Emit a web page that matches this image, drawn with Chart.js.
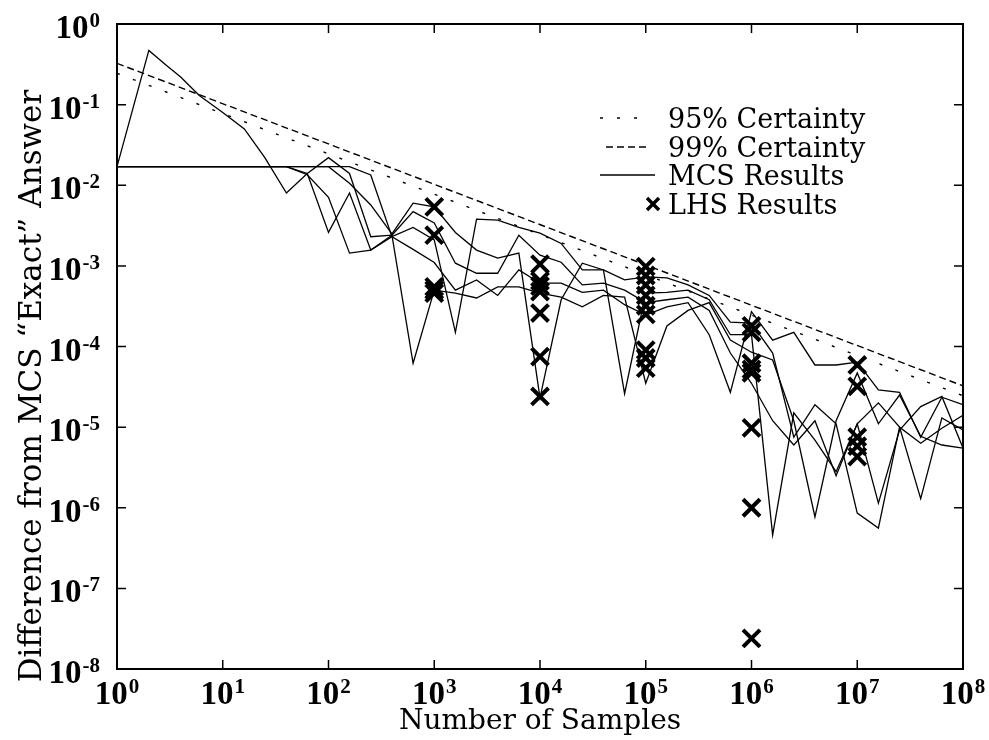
<!DOCTYPE html>
<html>
<head>
<meta charset="utf-8">
<script src="https://cdn.jsdelivr.net/npm/chart.js@4.4.1/dist/chart.umd.min.js"></script>
<style>
html,body{margin:0;padding:0;background:#fff;}
</style>
</head>
<body>
<canvas id="chart" width="989" height="740"></canvas>
<script>
// number of samples used at each step of the MCS runs
const samples=[1,2,3,4,6,10,16,25,40,63,100,158,251,398,631,1000,1585,2512,3981,6310,
10000,15849,25119,39811,63096,100000,158489,251189,398107,630957,
1000000,1584893,2511886,3981072,6309573,10000000,15848932,25118864,39810717,63095734,100000000];

// five MCS runs, difference from the "exact" answer
const mcsRun1=[0.017,0.47,0.30,0.22,0.13,0.08,0.05,0.022,0.008,0.014,0.022,
0.014,0.0023,0.0024,6.2e-5,5.0e-4,4.6e-4,4.0e-4,5.5e-4,5.5e-4,4.6e-4,
4.1e-4,3.1e-4,4.3e-4,4.1e-4,3.5e-5,1.8e-4,2.8e-4,3.5e-4,1.2e-4,8.5e-5,
6.8e-5,1.2e-5,7.7e-7,1.2e-5,4.7e-5,1.1e-5,2.5e-5,7.7e-6,6.0e-6,5.5e-6];
const mcsRun2=[0.017,0.017,0.017,0.017,0.017,0.017,0.017,0.017,0.017,0.014,0.0026,
0.008,0.00157,0.0024,0.0047,0.0034,0.00108,8.1e-4,8.1e-4,0.0024,0.00136,
0.00111,5.8e-4,6.1e-4,5.0e-4,3.5e-4,3.8e-4,4.1e-4,2.8e-4,8.3e-5,3.5e-5,
1.2e-5,6.0e-6,1.2e-5,2.5e-6,1.1e-5,1.14e-6,9.2e-6,1.8e-5,2.4e-5,5.5e-6];
const mcsRun3=[0.017,0.017,0.017,0.017,0.017,0.017,0.017,0.017,0.017,0.0135,0.0071,
0.00144,0.00157,0.0023,0.0016,0.0011,5.0e-4,6.7e-4,4.3e-4,8.9e-4,6.1e-4,
6.1e-4,4.7e-4,5.0e-4,3.3e-4,2.45e-4,3.1e-4,3.5e-4,1.4e-4,2.7e-5,2.7e-4,
1.2e-4,1.5e-4,5.9e-5,5.9e-5,6.4e-5,2.9e-5,2.7e-5,7.5e-6,2.35e-5,1.9e-5];
const mcsRun4=[0.017,0.017,0.017,0.017,0.017,0.017,0.017,0.017,0.017,0.017,0.017,
0.0106,0.0057,0.0025,0.006,0.0054,0.0026,0.00157,0.00125,0.00144,2.3e-5,
3.8e-4,0.00108,8.9e-4,2.6e-5,4.6e-4,4.7e-4,5.0e-4,3.8e-4,1.4e-4,1.4e-4,
4.6e-7,1.5e-5,6.9e-6,2.8e-6,1.1e-5,2.0e-5,1.0e-5,1.3e-6,1.3e-5,9.2e-6];
const mcsRun5=[0.017,0.017,0.017,0.017,0.017,0.017,0.017,0.017,0.017,0.017,0.017,
0.017,0.0134,0.0023,0.003,0.0021,1.5e-4,0.0038,0.0037,0.003,0.00255,
0.0019,8.9e-4,8.9e-4,6.7e-4,7.3e-4,7.1e-4,5.8e-4,4.3e-4,2.0e-4,1.95e-4,
8.3e-5,7.5e-6,1.9e-5,1.1e-5,8.6e-7,5.6e-7,1.0e-5,6.3e-6,9.7e-6,1.4e-5];

// certainty bounds, straight lines between the ends of the axis
const boundSamples=[1,100000000];
const certainty95=[0.245,2.45e-5];
const certainty99=[0.325,3.25e-5];

// LHS results
const lhsSamples=[1000,1000,1000,1000,1000,
10000,10000,10000,10000,10000,10000,10000,
100000,100000,100000,100000,100000,100000,100000,100000,100000,
1000000,1000000,1000000,1000000,1000000,1000000,1000000,1000000,
10000000,10000000,10000000,10000000,10000000];
const lhsDiff=[5.4e-3,2.4e-3,5.5e-4,5.0e-4,4.6e-4,
1.05e-3,6.5e-4,5.6e-4,4.8e-4,2.6e-4,7.5e-5,2.4e-5,
9.8e-4,7.6e-4,5.8e-4,4.3e-4,3.2e-4,2.5e-4,9.0e-5,7.2e-5,5.4e-5,
1.8e-4,1.5e-4,6.2e-5,5.2e-5,4.7e-5,9.8e-6,1.0e-6,2.4e-8,
5.9e-5,3.2e-5,7.5e-6,5.8e-6,4.3e-6];

// ticks
const xTickValues=[1,10,100,1000,10000,100000,1000000,10000000,100000000];
const xTickExp=["0","1","2","3","4","5","6","7","8"];
const yTickValues=[1,0.1,0.01,0.001,0.0001,0.00001,0.000001,0.0000001,0.00000001];
const yTickExp=["0","-1","-2","-3","-4","-5","-6","-7","-8"];

const xTitle="Number of Samples";
const yTitle="Difference from MCS \u201CExact\u201D Answer";

function pts(xs,ys){
  return xs.map((x,i)=>({x:x,y:ys[i]}));
}

function runSet(data,label){
  return {label:label,data:pts(samples,data),borderColor:"#000",borderWidth:1.3,
    pointRadius:0,tension:0,fill:false};
}

const datasets=[
  {label:"95% Certainty",data:pts(boundSamples,certainty95),borderColor:"#000",borderWidth:1.4,
    borderDash:[3,14],pointRadius:0,fill:false},
  {label:"99% Certainty",data:pts(boundSamples,certainty99),borderColor:"#000",borderWidth:1.4,
    borderDash:[7,4],pointRadius:0,fill:false},
  runSet(mcsRun1,"MCS Results"),
  runSet(mcsRun2,""),
  runSet(mcsRun3,""),
  runSet(mcsRun4,""),
  runSet(mcsRun5,""),
  {label:"LHS Results",data:pts(lhsSamples,lhsDiff),showLine:false,pointStyle:"crossRot",
    pointRadius:12,pointBorderWidth:4,pointBorderColor:"#000",borderColor:"#000"}
];

const serif='"DejaVu Serif", serif';
const tickFont='"Liberation Serif", serif';

function drawPower(ctx,exp,x,y,align){
  ctx.font="bold 33px "+tickFont;
  let wBase=ctx.measureText("10").width;
  ctx.font="bold 21px "+tickFont;
  let wExp=ctx.measureText(exp).width;
  let total=wBase+1+wExp;
  let left=align==="right" ? x-total : x-total/2;
  ctx.textAlign="left";
  ctx.textBaseline="alphabetic";
  ctx.font="bold 33px "+tickFont;
  ctx.fillText("10",left,y);
  ctx.font="bold 21px "+tickFont;
  ctx.fillText(exp,left+wBase+1,y-11);
}

const frame={
  id:"frame",
  afterDraw(chart){
    const ctx=chart.ctx;
    const a=chart.chartArea;
    const xs=chart.scales.x, ys=chart.scales.y;
    ctx.save();
    ctx.strokeStyle="#000";
    ctx.fillStyle="#000";
    ctx.lineWidth=2;
    ctx.strokeRect(a.left,a.top,a.right-a.left,a.bottom-a.top);

    ctx.beginPath();
    xTickValues.forEach(v=>{
      let px=xs.getPixelForValue(v);
      ctx.moveTo(px,a.bottom); ctx.lineTo(px,a.bottom-9);
      ctx.moveTo(px,a.top); ctx.lineTo(px,a.top+9);
    });
    yTickValues.forEach(v=>{
      let py=ys.getPixelForValue(v);
      ctx.moveTo(a.left,py); ctx.lineTo(a.left+9,py);
      ctx.moveTo(a.right,py); ctx.lineTo(a.right-9,py);
    });
    ctx.lineWidth=1.5;
    ctx.stroke();

    xTickValues.forEach((v,i)=>{
      drawPower(ctx,xTickExp[i],xs.getPixelForValue(v),a.bottom+35,"center");
    });
    yTickValues.forEach((v,i)=>{
      drawPower(ctx,yTickExp[i],a.left-17,ys.getPixelForValue(v)+14,"right");
    });

    // axis titles
    ctx.font="28px "+serif;
    ctx.textAlign="center";
    ctx.textBaseline="alphabetic";
    ctx.fillText(xTitle,540,729);
    ctx.save();
    ctx.translate(41,386);
    ctx.rotate(-Math.PI/2);
    ctx.font="31px "+serif;
    ctx.fillText(yTitle,0,0);
    ctx.restore();

    // legend
    const ds=chart.data.datasets;
    const rows=[
      {d:ds[0],y:128,x0:600,x1:648},
      {d:ds[1],y:157,x0:606,x1:650},
      {d:ds[2],y:185,x0:600,x1:655},
      {d:ds[7],y:214,x0:653,x1:653}
    ];
    ctx.font="27px "+serif;
    ctx.textAlign="left";
    rows.forEach(r=>{
      let ly=r.y-10;
      if(r.d.showLine===false){
        let s=6;
        ctx.setLineDash([]);
        ctx.lineWidth=3.4;
        ctx.beginPath();
        ctx.moveTo(r.x0-s,ly-s); ctx.lineTo(r.x0+s,ly+s);
        ctx.moveTo(r.x0-s,ly+s); ctx.lineTo(r.x0+s,ly-s);
        ctx.stroke();
      }else{
        ctx.setLineDash(r.d.borderDash||[]);
        ctx.lineWidth=r.d.borderWidth;
        ctx.beginPath();
        ctx.moveTo(r.x0,ly); ctx.lineTo(r.x1,ly);
        ctx.stroke();
      }
      ctx.fillText(r.d.label,668,r.y);
    });
    ctx.restore();
  }
};

new Chart(document.getElementById("chart"),{
  type:"line",
  data:{datasets:datasets},
  options:{
    responsive:false,
    devicePixelRatio:1,
    animation:false,
    layout:{padding:{left:117,right:26,top:24,bottom:71}},
    scales:{
      x:{type:"logarithmic",min:1,max:100000000,display:false},
      y:{type:"logarithmic",min:0.00000001,max:1,display:false}
    },
    plugins:{legend:{display:false},tooltip:{enabled:false}}
  },
  plugins:[frame]
});
</script>
</body>
</html>
